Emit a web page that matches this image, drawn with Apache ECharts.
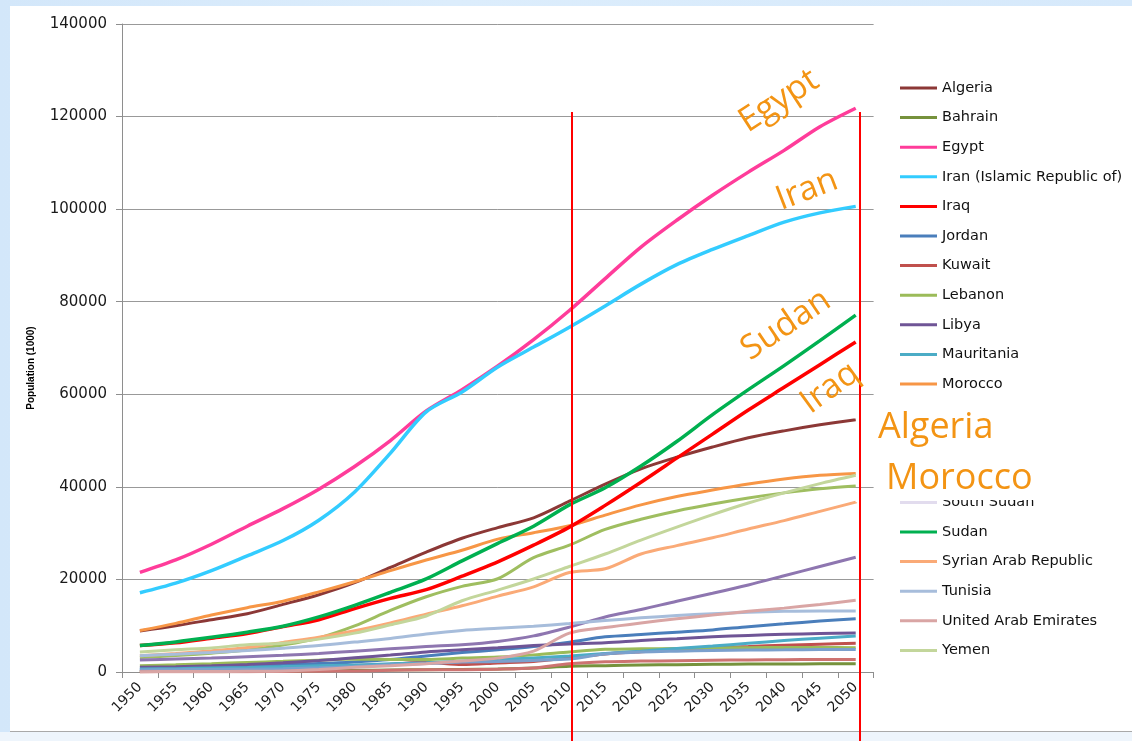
<!DOCTYPE html>
<html>
<head>
<meta charset="utf-8">
<script src="https://cdn.jsdelivr.net/npm/echarts@6/dist/echarts.min.js"></script>
<style>
  html, body { margin:0; padding:0; width:1132px; height:741px; overflow:hidden;
    background: linear-gradient(90deg, #d3e7fa 0%, #dcedfc 40%, #d6e9fb 100%); }
  #panel { position:absolute; left:10px; top:6px; width:1122px; height:725px; background:#ffffff;
    border-bottom:1px solid #a9a9a9; }
  #bottom { position:absolute; left:0; top:732px; width:1132px; height:9px; background:#eef5fc; }
  #chart { position:absolute; left:0; top:0; width:1132px; height:741px; }
</style>
</head>
<body>
<div id="panel"></div>
<div id="bottom"></div>
<div id="chart"></div>
<script>
const years = ['1950','1955','1960','1965','1970','1975','1980','1985','1990','1995','2000',
  '2005','2010','2015','2020','2025','2030','2035','2040','2045','2050'];
const yTicks = { min: 0, max: 140000, interval: 20000 };

const algeria     = [8872,10000,11300,12600,14600,16700,19300,22600,25900,28900,31200,33300,36900,40600,43900,46400,48600,50600,52100,53400,54500];
const bahrain     = [116,130,162,192,213,270,359,430,496,563,668,867,1252,1377,1500,1590,1660,1710,1740,1760,1770];
const egypt       = [21514,24200,27600,31500,35300,39500,44400,50000,56400,61000,66100,71800,78100,85000,91800,97600,103000,108000,112700,117800,121800];
const iran        = [17119,19200,21900,25100,28400,32800,38900,47300,56200,60500,65900,70200,74500,79100,83800,88000,91300,94300,97200,99200,100600];
const iraq        = [5719,6300,7300,8300,9800,11300,13700,15900,17800,20700,23800,27400,31300,36000,41000,46200,51400,56600,61500,66400,71300];
const jordan      = [449,560,844,1120,1650,1850,2180,2690,3470,4210,4800,5500,6450,7600,8100,8600,9100,9800,10400,11000,11500];
const kuwait      = [152,210,278,474,748,1040,1380,1700,2100,1600,1940,2270,3060,3900,4400,4800,5200,5500,5800,6000,6200];
const lebanon     = [1336,1540,1786,2060,2297,2560,2785,2720,2700,3000,3235,3700,4340,4900,5000,5100,5200,5250,5280,5280,5250];
const libya       = [1029,1130,1349,1623,1994,2500,3063,3660,4334,4800,5231,5700,6040,6300,6800,7200,7600,7900,8150,8300,8400];
const mauritania  = [651,720,858,980,1150,1330,1530,1760,2020,2330,2640,3050,3460,4000,4500,5100,5600,6200,6800,7300,7800];
const morocco     = [8953,10500,12300,13900,15300,17300,19500,21900,24200,26300,28700,30100,31600,33900,36100,37900,39300,40600,41700,42500,42900];
const oman        = [456,500,552,620,724,900,1180,1540,1810,2170,2270,2510,2800,3900,4300,4500,4650,4750,4800,4850,4850];
const qatar       = [25,35,47,70,109,170,224,360,476,500,594,860,1780,2200,2350,2450,2550,2600,2650,2700,2700];
const saudiArabia = [3121,3550,4075,4740,5836,7360,9950,13300,16260,18500,20150,24700,27400,30800,33000,34800,36300,37600,38700,39600,40200];
const southSudan  = [2583,2800,3000,3300,3600,4000,4500,5000,5500,5900,6600,7800,9700,11900,13500,15300,17000,18800,20800,22800,24800];
const sudan       = [5734,6500,7500,8600,9900,11900,14400,17200,20100,24000,27800,31500,36100,39800,44500,49800,55600,61000,66200,71600,77100];
const syria       = [3536,4000,4600,5300,6400,7500,8900,10600,12500,14300,16400,18400,21500,22300,25500,27300,29000,30900,32700,34700,36700];
const tunisia     = [3530,3860,4220,4630,5130,5700,6460,7260,8230,8990,9460,9900,10480,11120,11700,12200,12600,12900,13100,13200,13200];
const uae         = [70,90,100,150,230,550,1000,1350,1800,2400,3000,4500,8400,9600,10600,11500,12300,13100,13800,14600,15500];
const yemen       = [4316,4800,5200,5900,6200,7100,8400,10200,12100,15400,17700,20100,22800,25500,28500,31300,34000,36500,38700,40700,42500];

const seriesDefs = [
  ['Algeria', algeria, '#8C3836'],
  ['Bahrain', bahrain, '#76923C'],
  ['Egypt', egypt, '#FF3C9A'],
  ['Iran (Islamic Republic of)', iran, '#33CCFF'],
  ['Iraq', iraq, '#FF0000'],
  ['Jordan', jordan, '#4A7EBB'],
  ['Kuwait', kuwait, '#C0504D'],
  ['Lebanon', lebanon, '#9BBB59'],
  ['Libya', libya, '#6F5596'],
  ['Mauritania', mauritania, '#4BACC6'],
  ['Morocco', morocco, '#F79646'],
  ['Oman', oman, '#7BA0CD'],
  ['Qatar', qatar, '#CD7371'],
  ['Saudi Arabia', saudiArabia, '#9FBE60'],
  ['South Sudan', southSudan, '#8E76B0'],
  ['Sudan', sudan, '#00B050'],
  ['Syrian Arab Republic', syria, '#FAAA77'],
  ['Tunisia', tunisia, '#A7BDDB'],
  ['United Arab Emirates', uae, '#D9A5A4'],
  ['Yemen', yemen, '#C3D69B']
];
const boldNames = ['Egypt','Iran (Islamic Republic of)','Sudan','Iraq'];

const chart = echarts.init(document.getElementById('chart'), null, { renderer: 'canvas' });
const orange = '#F39414';
const annFont = '"Open Sans", "Noto Sans", sans-serif';

function ann(text, x, y, deg, size) {
  return { type: 'text', x: x, y: y, rotation: deg * Math.PI / 180, z: 100,
    style: { text: text, fill: orange, font: size + 'px ' + annFont, align: 'center', verticalAlign: 'middle' } };
}

chart.setOption({
  backgroundColor: 'transparent',
  animation: false,
  grid: { left: 122, right: 258.4, top: 24, bottom: 69, containLabel: false },
  legend: {
    orient: 'vertical', left: 895, top: 75,
    icon: 'rect', itemWidth: 37, itemHeight: 3, itemGap: 13.6,
    textStyle: { fontFamily: 'DejaVu Sans', fontSize: 14.5, color: '#111', lineHeight: 16 },
    data: seriesDefs.map(d => d[0] === 'South Sudan'
      ? { name: d[0], itemStyle: { color: '#E2DCEE' } } : { name: d[0] })
  },
  xAxis: {
    type: 'category', data: years, boundaryGap: true,
    axisLine: { lineStyle: { color: '#8E8E8E', width: 1 } },
    axisTick: { show: true, interval: 0, length: 6, lineStyle: { color: '#8E8E8E' } },
    axisLabel: { interval: 0, rotate: 45, fontFamily: 'DejaVu Sans', fontSize: 14, color: '#1a1a1a', margin: 13 }
  },
  yAxis: {
    type: 'value', min: yTicks.min, max: yTicks.max, interval: yTicks.interval,
    name: 'Population (1000)', nameLocation: 'middle', nameGap: 86, nameRotate: 90,
    nameTextStyle: { fontFamily: 'Liberation Sans', fontWeight: 'bold', fontSize: 10, color: '#000', padding: [0,0,0,-40] },
    axisLine: { show: true, lineStyle: { color: '#8E8E8E' } },
    axisTick: { show: true, length: 6, lineStyle: { color: '#8E8E8E' } },
    splitLine: { show: true, lineStyle: { color: '#999999', width: 1 } },
    axisLabel: { fontFamily: 'DejaVu Sans', fontSize: 15, color: '#1a1a1a', margin: 15,
      formatter: v => String(v) }
  },
  series: seriesDefs.map(d => ({
    name: d[0], type: 'line', data: d[1], smooth: 0.3,
    symbol: 'none', showSymbol: false,
    lineStyle: { color: d[2], width: boldNames.includes(d[0]) ? 3.5 : 3 }, itemStyle: { color: d[2] },
    z: boldNames.includes(d[0]) ? 4 : 3
  })),
  graphic: { elements: [
    { type: 'line', z: 100, shape: { x1: 572, y1: 112, x2: 572, y2: 741 }, style: { stroke: '#FF0000', lineWidth: 2 } },
    { type: 'line', z: 100, shape: { x1: 860, y1: 112, x2: 860, y2: 741 }, style: { stroke: '#FF0000', lineWidth: 2 } },
    { type: 'rect', z: 99, shape: { x: 876, y: 398, width: 190, height: 102 }, style: { fill: '#ffffff' } },
    ann('Egypt', 779, 101, 33, 34),
    ann('Iran', 807, 190, 21, 34),
    ann('Sudan', 786, 325, 34, 34),
    ann('Iraq', 830, 388, 36, 34),
    { type: 'text', x: 878, y: 428, z: 101, style: { text: 'Algeria', fill: orange, font: '36px ' + annFont, align: 'left', verticalAlign: 'middle' } },
    { type: 'text', x: 886, y: 479, z: 101, style: { text: 'Morocco', fill: orange, font: '36px ' + annFont, align: 'left', verticalAlign: 'middle' } }
  ] }
});
</script>
</body>
</html>
